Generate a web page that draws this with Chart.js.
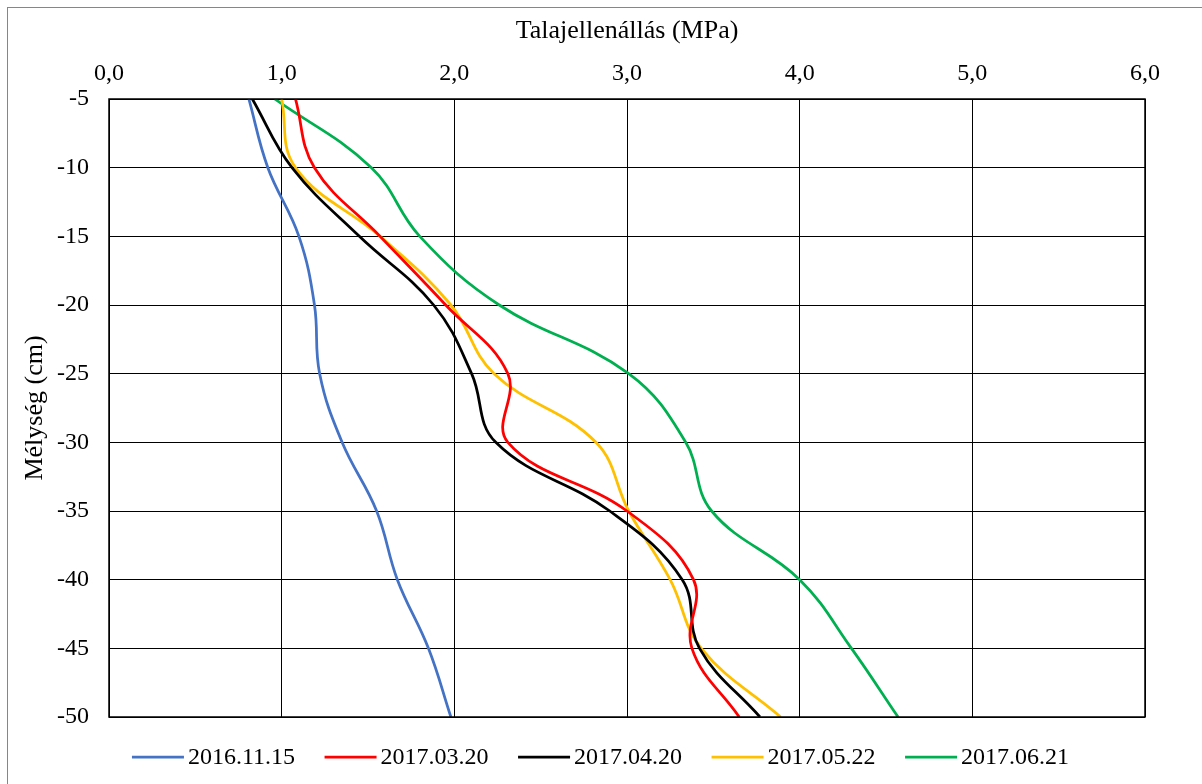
<!DOCTYPE html>
<html>
<head>
<meta charset="utf-8">
<script src="https://cdn.jsdelivr.net/npm/chart.js@4.4.1/dist/chart.umd.min.js"></script>
<style>
html,body{margin:0;padding:0;background:#fff;}
#wrap{position:relative;width:1202px;height:784px;}
</style>
</head>
<body>
<div id="wrap"><canvas id="c" width="1202" height="784"></canvas></div>
<script>
const depths = [-5, -10, -15, -20, -25, -30, -35, -40, -45, -50];
const s20161115 = [0.81, 0.92, 1.10, 1.19, 1.22, 1.35, 1.55, 1.67, 1.85, 1.98];
const s20170320 = [1.08, 1.19, 1.57, 1.95, 2.31, 2.31, 3.00, 3.385, 3.376, 3.65];
const s20170420 = [0.83, 1.06, 1.45, 1.88, 2.10, 2.24, 2.90, 3.32, 3.42, 3.77];
const s20170522 = [1.00, 1.08, 1.57, 1.98, 2.23, 2.82, 3.01, 3.25, 3.43, 3.89];
const s20170621 = [0.96, 1.52, 1.80, 2.26, 3.01, 3.34, 3.49, 4.00, 4.30, 4.57];
const seriesLabels = ['2016.11.15', '2017.03.20', '2017.04.20', '2017.05.22', '2017.06.21'];
const seriesValues = [s20161115, s20170320, s20170420, s20170522, s20170621];
const seriesColors = ['#4472C4', '#FF0000', '#000000', '#FFC000', '#00B050'];
const xTitle = 'Talajellenállás (MPa)';
const yTitle = 'Mélység (cm)';

const FONT = "'Liberation Serif', 'Times New Roman', serif";

const datasets = seriesLabels.map((lab, i) => ({
  label: lab,
  data: seriesValues[i].map((v, j) => ({x: v, y: depths[j]})),
  borderColor: seriesColors[i],
  backgroundColor: seriesColors[i],
  borderWidth: 2.75,
  pointRadius: 0,
  pointHoverRadius: 0,
  showLine: true,
  tension: 0.4,
  fill: false
}));

const frame = {
  id: 'frame',
  beforeDraw(chart) {
    const ctx = chart.ctx;
    ctx.save();
    ctx.fillStyle = '#fff';
    ctx.fillRect(0, 0, chart.width, chart.height);
    ctx.strokeStyle = '#868686';
    ctx.lineWidth = 1;
    ctx.strokeRect(7.5, 7.5, 1200, 780);
    ctx.restore();
  },
  afterDraw(chart) {
    const ctx = chart.ctx;
    const a = chart.chartArea;
    ctx.save();
    ctx.strokeStyle = '#000';
    ctx.lineWidth = 1.5;
    ctx.strokeRect(a.left, a.top, a.right - a.left, a.bottom - a.top);
    // legend
    ctx.font = '24px ' + FONT;
    ctx.textBaseline = 'middle';
    ctx.textAlign = 'left';
    const lineLen = 52, gap = 4, itemGap = 29.5;
    const items = chart.data.datasets.map(d => ({label: d.label, color: d.borderColor, w: ctx.measureText(d.label).width}));
    let total = 0;
    items.forEach((it, i) => { total += lineLen + gap + it.w + (i < items.length - 1 ? itemGap : 0); });
    let x = 600.5 - total / 2;
    const y = 757;
    items.forEach(it => {
      ctx.strokeStyle = it.color;
      ctx.lineWidth = 2.75;
      ctx.beginPath();
      ctx.moveTo(x, y);
      ctx.lineTo(x + lineLen, y);
      ctx.stroke();
      ctx.fillStyle = '#000';
      ctx.fillText(it.label, x + lineLen + gap, y + 1);
      x += lineLen + gap + it.w + itemGap;
    });
    ctx.restore();
  }
};

new Chart(document.getElementById('c'), {
  type: 'scatter',
  data: { datasets },
  options: {
    responsive: false,
    animation: false,
    events: [],
    layout: { padding: { left: 8, right: 57, top: 8, bottom: 67 } },
    plugins: {
      legend: { display: false },
      tooltip: { enabled: false }
    },
    scales: {
      x: {
        type: 'linear',
        position: 'top',
        min: 0, max: 6,
        afterFit(scale) { scale.height = 91; },
        ticks: {
          stepSize: 1,
          color: '#000',
          padding: 11,
          font: { family: FONT, size: 24 },
          callback: v => v.toFixed(1).replace('.', ',')
        },
        grid: { color: '#000', lineWidth: 1, drawTicks: false },
        border: { display: false },
        title: {
          display: true,
          text: xTitle,
          color: '#000',
          font: { family: FONT, size: 26 },
          padding: { top: 8, bottom: 10 }
        }
      },
      y: {
        type: 'linear',
        min: -50, max: -5,
        afterFit(scale) { scale.width = 101; },
        ticks: {
          stepSize: 5,
          color: '#000',
          padding: 20,
          font: { family: FONT, size: 24 },
          callback: v => String(v)
        },
        grid: { color: '#000', lineWidth: 1, drawTicks: false },
        border: { display: false },
        title: {
          display: true,
          text: yTitle,
          color: '#000',
          font: { family: FONT, size: 26 },
          padding: { top: 12, bottom: 0 }
        }
      }
    }
  },
  plugins: [frame]
});
</script>
</body>
</html>
